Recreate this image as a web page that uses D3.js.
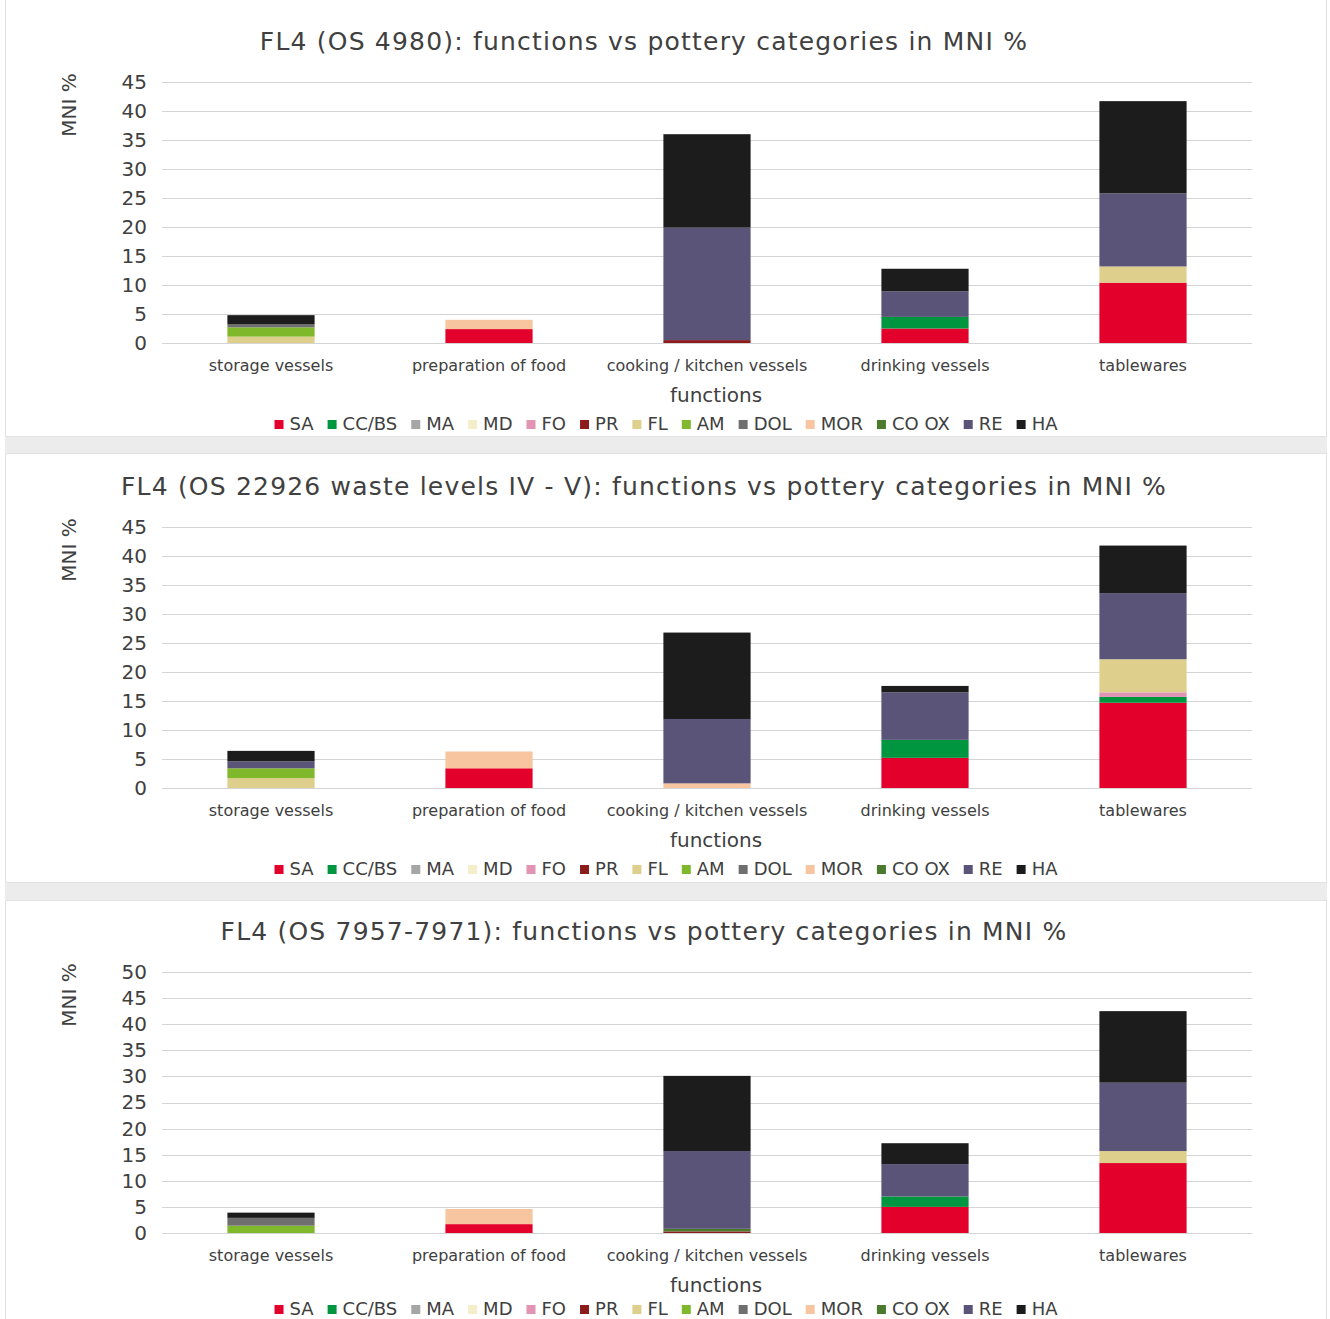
<!DOCTYPE html>
<html>
<head>
<meta charset="utf-8">
<script src="https://cdn.jsdelivr.net/npm/d3@7"></script>
<style>
  body { margin: 0; background: #fff; }
  text { font-family: "DejaVu Sans", Verdana, sans-serif; fill: #404040; }
</style>
</head>
<body>
<div id="chart"></div>
<script>
// categories and series
const categories = ["storage vessels", "preparation of food", "cooking / kitchen vessels", "drinking vessels", "tablewares"];
const seriesNames = ["SA", "CC/BS", "MA", "MD", "FO", "PR", "FL", "AM", "DOL", "MOR", "CO OX", "RE", "HA"];
const seriesColors = ["#e3002b", "#00953f", "#a6a6a6", "#f4eecb", "#e294b4", "#8c1c1c", "#dfcf8c", "#7fb82a",
                      "#6f6f6f", "#f7c6a0", "#4b7a2c", "#5a5478", "#1c1c1c"];

const titles = [
  "FL4 (OS 4980): functions vs pottery categories in MNI %",
  "FL4 (OS 22926 waste levels IV - V): functions vs pottery categories in MNI %",
  "FL4 (OS 7957-7971): functions vs pottery categories in MNI %"
];
const yTicks1 = [0, 5, 10, 15, 20, 25, 30, 35, 40, 45];
const yTicks2 = [0, 5, 10, 15, 20, 25, 30, 35, 40, 45];
const yTicks3 = [0, 5, 10, 15, 20, 25, 30, 35, 40, 45, 50];

// values per series, one entry per category (MNI %)
// chart 1: OS 4980
const c1_SA   = [0, 2.4, 0, 2.5, 10.4];
const c1_CCBS = [0, 0, 0, 2.0, 0];
const c1_PR   = [0, 0, 0.5, 0, 0];
const c1_FL   = [1.1, 0, 0, 0, 2.8];
const c1_AM   = [1.6, 0, 0, 0, 0];
const c1_DOL  = [0.5, 0, 0, 0, 0];
const c1_MOR  = [0, 1.6, 0, 0, 0];
const c1_RE   = [0, 0, 19.4, 4.4, 12.6];
const c1_HA   = [1.6, 0, 16.1, 3.9, 15.9];

// chart 2: OS 22926
const c2_SA   = [0, 3.4, 0, 5.2, 14.7];
const c2_CCBS = [0, 0, 0, 3.1, 1.0];
const c2_FO   = [0, 0, 0, 0, 0.8];
const c2_FL   = [1.7, 0, 0, 0, 5.7];
const c2_AM   = [1.7, 0, 0, 0, 0];
const c2_MOR  = [0, 2.9, 0.8, 0, 0];
const c2_RE   = [1.2, 0, 11.1, 8.2, 11.4];
const c2_HA   = [1.8, 0, 14.9, 1.1, 8.2];

// chart 3: OS 7957-7971
const c3_SA   = [0, 1.7, 0, 5.0, 13.4];
const c3_CCBS = [0, 0, 0, 2.0, 0];
const c3_PR   = [0, 0, 0.3, 0, 0];
const c3_FL   = [0, 0, 0, 0, 2.3];
const c3_AM   = [1.4, 0, 0, 0, 0];
const c3_DOL  = [1.5, 0, 0, 0, 0];
const c3_MOR  = [0, 2.9, 0, 0, 0];
const c3_COOX = [0, 0, 0.5, 0, 0];
const c3_RE   = [0, 0, 14.9, 6.2, 13.1];
const c3_HA   = [1.0, 0, 14.4, 4.0, 13.7];

const zeros = [0, 0, 0, 0, 0];

function buildRows(cols) {
  // cols: seriesName -> array of values
  return categories.map((c, i) => {
    let row = { cat: c };
    seriesNames.forEach(s => { row[s] = (cols[s] || zeros)[i]; });
    return row;
  });
}

const data1 = buildRows({ "SA": c1_SA, "CC/BS": c1_CCBS, "PR": c1_PR, "FL": c1_FL, "AM": c1_AM,
                          "DOL": c1_DOL, "MOR": c1_MOR, "RE": c1_RE, "HA": c1_HA });
const data2 = buildRows({ "SA": c2_SA, "CC/BS": c2_CCBS, "FO": c2_FO, "FL": c2_FL, "AM": c2_AM,
                          "MOR": c2_MOR, "RE": c2_RE, "HA": c2_HA });
const data3 = buildRows({ "SA": c3_SA, "CC/BS": c3_CCBS, "PR": c3_PR, "FL": c3_FL, "AM": c3_AM,
                          "DOL": c3_DOL, "MOR": c3_MOR, "CO OX": c3_COOX, "RE": c3_RE, "HA": c3_HA });

const width = 1330, height = 1319;

let svg = d3.select("#chart").append("svg")
            .attr("width", width)
            .attr("height", height);

// panel frames and grey separators
const panels = [
  { top: -2, bottom: 437 },
  { top: 453, bottom: 883 },
  { top: 900, bottom: 1330 }
];
svg.append("rect").attr("x", 5).attr("y", 437).attr("width", 1322).attr("height", 16).attr("fill", "#ececec");
svg.append("rect").attr("x", 5).attr("y", 883).attr("width", 1322).attr("height", 17).attr("fill", "#ececec");
panels.forEach(p => {
  svg.append("rect")
     .attr("x", 5.5).attr("y", p.top + 0.5)
     .attr("width", 1321).attr("height", p.bottom - p.top - 1)
     .attr("fill", "none").attr("stroke", "#e2e2e2");
});

const color = d3.scaleOrdinal().domain(seriesNames).range(seriesColors);
const stack = d3.stack().keys(seriesNames);

function drawChart(offsetY, title, data, yMax, ticks, legendY) {
  let g = svg.append("g").attr("transform", "translate(0," + offsetY + ")");

  let x = d3.scaleBand().domain(categories)
            .range([162, 1252])
            .paddingInner(0.6).paddingOuter(0.3);
  let y = d3.scaleLinear().domain([0, yMax]).range([343, 82]);

  // title
  g.append("text")
   .attr("x", 644).attr("y", 50)
   .attr("text-anchor", "middle")
   .style("font-size", "25px")
   .style("letter-spacing", "1.2px")
   .text(title);

  // gridlines
  g.append("g").selectAll("line")
   .data(ticks).join("line")
   .attr("x1", 162).attr("x2", 1252)
   .attr("y1", d => Math.round(y(d)) + 0.5).attr("y2", d => Math.round(y(d)) + 0.5)
   .attr("stroke", "#d4d4d4").attr("stroke-width", 1);

  // y axis labels
  let yAxis = d3.axisLeft(y).tickValues(ticks).tickSize(0).tickPadding(0);
  let ya = g.append("g").attr("transform", "translate(147,0)").call(yAxis);
  ya.select(".domain").remove();
  ya.selectAll("text")
    .style("font-size", "20px")
    .style("font-family", "DejaVu Sans, sans-serif")
    .attr("fill", "#404040");

  // y axis title
  g.append("text")
   .attr("transform", "translate(76,105) rotate(-90)")
   .attr("text-anchor", "middle")
   .style("font-size", "20px")
   .text("MNI %");

  // stacked bars
  let layers = stack(data);
  g.append("g").selectAll("g")
   .data(layers).join("g")
   .attr("fill", d => color(d.key))
   .selectAll("rect")
   .data(d => d).join("rect")
   .attr("x", d => x(d.data.cat))
   .attr("width", x.bandwidth())
   .attr("y", d => y(d[1]))
   .attr("height", d => Math.max(0, y(d[0]) - y(d[1])));

  // category axis
  let xAxis = d3.axisBottom(x).tickSize(0).tickPadding(0);
  let xa = g.append("g").attr("transform", "translate(0,360)").call(xAxis);
  xa.select(".domain").remove();
  xa.selectAll("text")
    .style("font-size", "16px")
    .style("font-family", "DejaVu Sans, sans-serif")
    .attr("fill", "#404040");

  g.append("text")
   .attr("x", 716).attr("y", 402)
   .attr("text-anchor", "middle")
   .style("font-size", "20px")
   .text("functions");

  // legend
  let leg = g.append("g").attr("transform", "translate(0," + legendY + ")");
  let items = leg.selectAll("g").data(seriesNames).join("g");
  items.append("rect")
       .attr("width", 9).attr("height", 9)
       .attr("y", -4)
       .attr("fill", d => color(d));
  items.append("text")
       .attr("x", 15).attr("y", 0)
       .attr("dy", "0.36em")
       .style("font-size", "18px")
       .text(d => d);
  let xpos = 0;
  let offs = [];
  items.each(function(d) {
    let w = this.querySelector("text").getComputedTextLength();
    offs.push(xpos);
    xpos += 15 + w + 14;
  });
  let total = xpos - 14;
  let start = 666 - total / 2;
  items.attr("transform", (d, i) => "translate(" + (start + offs[i]) + ",0)");
}

drawChart(0, titles[0], data1, 45, yTicks1, 424);
drawChart(445, titles[1], data2, 45, yTicks2, 424);
drawChart(890, titles[2], data3, 50, yTicks3, 419);
</script>
</body>
</html>
